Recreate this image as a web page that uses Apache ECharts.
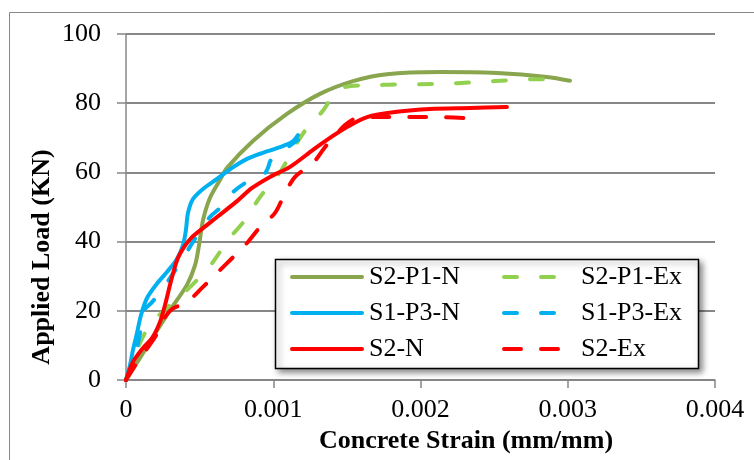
<!DOCTYPE html>
<html>
<head>
<meta charset="utf-8">
<script src="https://cdn.jsdelivr.net/npm/echarts@6/dist/echarts.min.js"></script>
<style>
  html, body { margin: 0; padding: 0; background: #ffffff; }
  #chart { width: 754px; height: 460px; }
</style>
</head>
<body>
<div id="chart"></div>
<script>
// Load–strain curves (strain in mm/mm, load in kN)
const strainS2P1N = [0, 0.000095, 0.000183, 0.000299, 0.000414, 0.000469, 0.000496, 0.000523, 0.000570, 0.000638, 0.000686, 0.000862, 0.001093, 0.001317, 0.001542, 0.001772, 0.002132, 0.002520, 0.002859, 0.003015];
const loadS2P1N   = [0, 6.4, 12.4, 20.2, 27.5, 33.2, 39.0, 46.2, 52.6, 57.8, 61.3, 69.1, 76.9, 82.7, 86.4, 88.4, 89.0, 88.7, 87.6, 86.5];

const strainS2P1Ex = [0, 0.0000475, 0.0000883, 0.000163, 0.000299, 0.000414, 0.000503, 0.000591, 0.000693, 0.000808, 0.000910, 0.001046, 0.001161, 0.001229, 0.001331, 0.001399, 0.001487, 0.001745, 0.001997, 0.002248, 0.002506, 0.002757, 0.002879];
const loadS2P1Ex   = [0, 5.8, 10.1, 15.9, 21.7, 26.0, 29.8, 34.1, 40.5, 46.2, 52.9, 60.1, 68.5, 72.8, 77.5, 81.5, 84.7, 85.3, 85.5, 85.8, 86.4, 86.9, 86.9];

const strainS1P3N = [0, 0.0000272, 0.0000475, 0.0000747, 0.000102, 0.000143, 0.000204, 0.000278, 0.000346, 0.000387, 0.000407, 0.000421, 0.000455, 0.000523, 0.000618, 0.000720, 0.000822, 0.000924, 0.001046, 0.001127, 0.001168];
const loadS1P3N   = [0, 4.3, 8.7, 13.6, 18.8, 23.7, 27.5, 31.2, 35.0, 39.0, 43.4, 48.3, 52.3, 55.2, 58.1, 61.3, 63.9, 65.6, 67.3, 68.8, 70.8];

const strainS1P3Ex = [0, 0.0000407, 0.0000747, 0.0000951, 0.000115, 0.000177, 0.000244, 0.000312, 0.000380, 0.000455, 0.000570, 0.000638, 0.000727, 0.000808, 0.000896, 0.000944, 0.000964, 0.000985, 0.001100, 0.001168];
const loadS1P3Ex   = [0, 5.2, 9.5, 13.6, 19.7, 22.5, 26.0, 30.3, 34.7, 39.9, 47.1, 49.7, 54.3, 56.9, 58.7, 59.8, 61.3, 63.6, 67.3, 69.4];

const strainS2N = [0, 0.0000475, 0.000115, 0.000177, 0.000231, 0.000265, 0.000299, 0.000326, 0.000353, 0.000394, 0.000448, 0.000523, 0.000618, 0.000754, 0.000856, 0.000978, 0.001114, 0.001270, 0.001365, 0.001501, 0.001637, 0.001840, 0.002065, 0.002336, 0.002587];
const loadS2N   = [0, 5.2, 9.2, 12.1, 16.8, 21.7, 27.5, 31.8, 35.3, 38.4, 41.3, 43.9, 47.1, 51.7, 55.5, 58.7, 61.6, 66.5, 69.4, 73.1, 76.0, 77.5, 78.3, 78.6, 78.9];

const strainS2Ex = [0, 0.0000679, 0.000136, 0.000197, 0.000251, 0.000312, 0.000414, 0.000523, 0.000618, 0.000727, 0.000822, 0.000910, 0.001012, 0.001080, 0.001148, 0.001270, 0.001351, 0.001419, 0.001487, 0.001569, 0.001725, 0.001976, 0.002132, 0.002302];
const loadS2Ex   = [0, 4.6, 8.7, 12.4, 17.3, 20.5, 22.5, 26.9, 30.9, 35.5, 39.6, 44.2, 48.3, 54.0, 58.7, 62.7, 67.3, 70.5, 73.7, 75.7, 76.0, 76.0, 76.0, 75.7];

const seriesNames = ['S2-P1-N', 'S2-P1-Ex', 'S1-P3-N', 'S1-P3-Ex', 'S2-N', 'S2-Ex'];
const xTicks = [0, 0.001, 0.002, 0.003, 0.004];
const yTicks = [0, 20, 40, 60, 80, 100];

const FONT = '"Liberation Serif", "Times New Roman", serif';
const AXIS_GREY = '#878787';
const DASH_SHORT = [13, 24];
const DASH_RED = [17, 20];

function pairs(xs, ys) { return xs.map((x, i) => [x, ys[i]]); }

function curve(name, xs, ys, color, dash) {
  return {
    type: 'line',
    name: name,
    data: pairs(xs, ys),
    smooth: 0.3,
    symbol: 'none',
    itemStyle: { color: color },
    lineStyle: { color: color, width: 4, type: dash || 'solid', cap: 'round', join: 'round' },
    emphasis: { disabled: true },
    animation: false
  };
}

const chart = echarts.init(document.getElementById('chart'), null, { renderer: 'canvas' });

const legendText = { fontFamily: FONT, fontSize: 26, color: '#000000', lineHeight: 26 };
const legendLine = { width: 4, cap: 'round' };

chart.setOption({
  backgroundColor: '#ffffff',
  animation: false,
  grid: { left: 126, right: 39, top: 34, bottom: 80, containLabel: false },
  xAxis: {
    type: 'value',
    min: xTicks[0],
    max: xTicks[xTicks.length - 1],
    interval: xTicks[1] - xTicks[0],
    axisLine: { show: true, lineStyle: { color: AXIS_GREY, width: 1.5 } },
    axisTick: { show: true, length: 8, lineStyle: { color: AXIS_GREY, width: 1.5 } },
    splitLine: { show: false },
    axisLabel: {
      margin: 17,
      fontFamily: FONT, fontSize: 26, color: '#000000',
      formatter: v => (v === 0 ? '0' : v.toFixed(3))
    }
  },
  yAxis: {
    type: 'value',
    min: yTicks[0],
    max: yTicks[yTicks.length - 1],
    interval: yTicks[1] - yTicks[0],
    axisLine: { show: true, lineStyle: { color: AXIS_GREY, width: 1.5 } },
    axisTick: { show: true, length: 9, lineStyle: { color: AXIS_GREY, width: 1.5 } },
    splitLine: { show: true, lineStyle: { color: AXIS_GREY, width: 2 } },
    axisLabel: { margin: 25, fontFamily: FONT, fontSize: 26, color: '#000000' }
  },
  legend: [
    {
      data: [seriesNames[0], seriesNames[2], seriesNames[4]],
      orient: 'vertical', left: 290, top: 264, padding: 0,
      itemWidth: 70, itemHeight: 14, itemGap: 10,
      selectedMode: false, z: 12,
      itemStyle: { opacity: 0 },
      lineStyle: legendLine,
      textStyle: Object.assign({}, legendText, { padding: [0, 0, 0, 2] })
    },
    {
      data: [seriesNames[1], seriesNames[3], seriesNames[5]],
      orient: 'vertical', left: 502, top: 264, padding: 0,
      itemWidth: 60, itemHeight: 14, itemGap: 10,
      selectedMode: false, z: 12,
      itemStyle: { opacity: 0 },
      lineStyle: legendLine,
      textStyle: Object.assign({}, legendText, { padding: [0, 0, 0, 12] })
    }
  ],
  graphic: [
    {
      type: 'rect', z: 0, silent: true,
      shape: { x: 9.5, y: 12.5, width: 820, height: 520 },
      style: { fill: null, stroke: AXIS_GREY, lineWidth: 1 }
    },
    {
      type: 'rect', z: 10, silent: true,
      shape: { x: 275.5, y: 259.5, width: 423, height: 109 },
      style: {
        fill: '#ffffff', stroke: '#000000', lineWidth: 1.5,
        shadowBlur: 6, shadowOffsetX: 3, shadowOffsetY: 3, shadowColor: 'rgba(0,0,0,0.45)'
      }
    },
    {
      type: 'text', z: 10, silent: true,
      x: 466, y: 441,
      style: {
        text: 'Concrete Strain (mm/mm)',
        font: 'bold 26px ' + FONT, fill: '#000000',
        textAlign: 'center', textVerticalAlign: 'middle'
      }
    },
    {
      type: 'text', z: 10, silent: true,
      x: 42, y: 257, rotation: Math.PI / 2,
      style: {
        text: 'Applied Load (KN)',
        font: 'bold 26px ' + FONT, fill: '#000000',
        textAlign: 'center', textVerticalAlign: 'middle'
      }
    }
  ],
  series: [
    curve(seriesNames[0], strainS2P1N, loadS2P1N, '#89A54E'),
    curve(seriesNames[1], strainS2P1Ex, loadS2P1Ex, '#92D050', DASH_SHORT),
    curve(seriesNames[2], strainS1P3N, loadS1P3N, '#00B0F0'),
    curve(seriesNames[3], strainS1P3Ex, loadS1P3Ex, '#00B0F0', DASH_SHORT),
    curve(seriesNames[4], strainS2N, loadS2N, '#FF0000'),
    curve(seriesNames[5], strainS2Ex, loadS2Ex, '#FF0000', DASH_RED)
  ]
});
</script>
</body>
</html>
